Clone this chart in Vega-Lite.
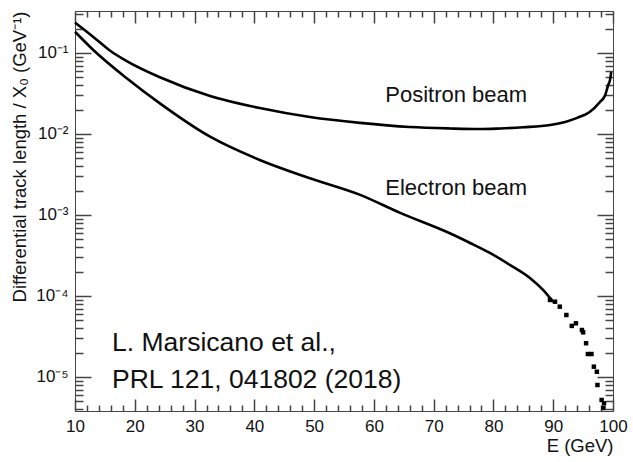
{
  "$schema": "https://vega.github.io/schema/vega-lite/v6.json",
  "width": 538,
  "height": 400,
  "autosize": {"type": "none"},
  "padding": {"left": 75, "top": 11, "right": 20, "bottom": 51},
  "background": "white",
  "config": {
    "view": {"stroke": "#444444", "strokeWidth": 1},
    "font": "Liberation Sans",
    "axis": {
      "domain": false, "grid": false,
      "labelFont": "Liberation Sans", "titleFont": "Liberation Sans",
      "labelColor": "#111111", "titleColor": "#111111",
      "tickColor": "#444444", "tickWidth": 1.5, "tickOpacity": 1,
      "labelFontSize": 17, "titleFontSize": 18.5, "titleFontWeight": "normal",
      "labelOverlap": false, "labelFlush": false, "zindex": 1
    }
  },
  "datasets": {
    "positron": [
      {"E": 10, "v": 0.237},
      {"E": 13.06, "v": 0.158},
      {"E": 16.0, "v": 0.105},
      {"E": 18.65, "v": 0.0794},
      {"E": 24.2, "v": 0.0501},
      {"E": 32.6, "v": 0.0294},
      {"E": 40.9, "v": 0.0209},
      {"E": 49.3, "v": 0.0162},
      {"E": 57.7, "v": 0.0137},
      {"E": 66.0, "v": 0.0122},
      {"E": 72.7, "v": 0.0117},
      {"E": 77.7, "v": 0.0115},
      {"E": 81.1, "v": 0.0117},
      {"E": 85.0, "v": 0.0121},
      {"E": 89.5, "v": 0.0129},
      {"E": 92.0, "v": 0.0141},
      {"E": 94.0, "v": 0.0158},
      {"E": 96.1, "v": 0.0187},
      {"E": 97.8, "v": 0.0248},
      {"E": 98.7, "v": 0.0303},
      {"E": 99.2, "v": 0.0403},
      {"E": 99.5, "v": 0.0464},
      {"E": 99.7, "v": 0.0582}
    ],
    "electron": [
      {"E": 10, "v": 0.183},
      {"E": 13.06, "v": 0.109},
      {"E": 18.65, "v": 0.0488},
      {"E": 24.2, "v": 0.0239},
      {"E": 32.6, "v": 0.00926},
      {"E": 40.9, "v": 0.00478},
      {"E": 49.3, "v": 0.00284},
      {"E": 57.7, "v": 0.00177},
      {"E": 64.4, "v": 0.00106},
      {"E": 72.7, "v": 0.000594},
      {"E": 76.1, "v": 0.000451},
      {"E": 79.4, "v": 0.00034},
      {"E": 82.8, "v": 0.000241},
      {"E": 86.1, "v": 0.000167},
      {"E": 88.3, "v": 0.000119},
      {"E": 90.0, "v": 0.0000843}
    ],
    "tail": [
      {"E": 89.46, "v": 0.0000893},
      {"E": 90.3, "v": 0.000085},
      {"E": 91.1, "v": 0.0000738},
      {"E": 92.2, "v": 0.0000582},
      {"E": 93.1, "v": 0.0000427},
      {"E": 93.8, "v": 0.000046},
      {"E": 94.8, "v": 0.000038},
      {"E": 95.0, "v": 0.0000356},
      {"E": 95.5, "v": 0.0000261},
      {"E": 95.8, "v": 0.0000192},
      {"E": 96.4, "v": 0.0000192},
      {"E": 96.8, "v": 0.0000134},
      {"E": 97.3, "v": 0.0000116},
      {"E": 97.4, "v": 0.00000796},
      {"E": 98.1, "v": 0.0000052},
      {"E": 98.5, "v": 0.00000473},
      {"E": 98.4, "v": 0.00000414}
    ],
    "beamLabels": [
      {"E": 61.9, "v": 0.0303, "label": "Positron beam"},
      {"E": 61.9, "v": 0.00215, "label": "Electron beam"}
    ],
    "citation": [
      {"E": 16.2, "v": 0.0000263, "label": "L. Marsicano et al.,"},
      {"E": 16.2, "v": 0.00000918, "label": "PRL 121, 041802 (2018)"}
    ]
  },
  "resolve": {"axis": {"x": "independent", "y": "independent"}},
  "layer": [
    {
      "data": {"name": "positron"},
      "mark": {"type": "line", "color": "black", "strokeWidth": 2.6, "interpolate": "monotone"},
      "encoding": {
        "x": {
          "field": "E", "type": "quantitative",
          "scale": {"domain": [10, 100], "nice": false, "zero": false},
          "axis": {
            "orient": "bottom",
            "values": [10,20,30,40,50,60,70,80,90,100],
            "ticks": false, "tickSize": 0,
            "labelPadding": 7,
            "title": "E (GeV)",
            "titleAnchor": "end",
            "titlePadding": 2
          }
        },
        "y": {
          "field": "v", "type": "quantitative",
          "scale": {"type": "log", "domain": [0.0000038, 0.33], "nice": false},
          "axis": {
            "orient": "left",
            "values": [0.00001, 0.0001, 0.001, 0.01, 0.1],
            "ticks": false, "tickSize": 0,
            "labelExpr": "'10⁻' + ['⁰','¹','²','³','⁴','⁵','⁶'][-round(log(datum.value)/LN10)]",
            "labelPadding": 7,
            "title": "Differential track length / X₀ (GeV⁻¹)",
            "titleAnchor": "end",
            "titlePadding": 6
          }
        }
      }
    },
    {
      "data": {"name": "electron"},
      "mark": {"type": "line", "color": "black", "strokeWidth": 2.6, "interpolate": "monotone"},
      "encoding": {
        "x": {
          "field": "E", "type": "quantitative",
          "axis": {
            "orient": "bottom", "offset": -12, "ticks": true, "tickSize": 12, "tickColor": "#444444",
            "values": [10,20,30,40,50,60,70,80,90,100],
            "labels": false, "title": null
          }
        },
        "y": {
          "field": "v", "type": "quantitative",
          "axis": {
            "orient": "left", "offset": -16, "ticks": true, "tickSize": 16, "tickColor": "#444444",
            "values": [0.00001, 0.0001, 0.001, 0.01, 0.1],
            "labels": false, "title": null
          }
        }
      }
    },
    {
      "data": {"name": "tail"},
      "mark": {"type": "square", "color": "black", "filled": true, "opacity": 1, "size": 20},
      "encoding": {
        "x": {
          "field": "E", "type": "quantitative",
          "axis": {
            "orient": "bottom", "offset": -6, "ticks": true, "tickSize": 6, "tickColor": "#444444",
            "values": [12,14,16,18,22,24,26,28,32,34,36,38,42,44,46,48,52,54,56,58,62,64,66,68,72,74,76,78,82,84,86,88,92,94,96,98],
            "labels": false, "title": null
          }
        },
        "y": {
          "field": "v", "type": "quantitative",
          "axis": {
            "orient": "left", "offset": -8, "ticks": true, "tickSize": 8, "tickColor": "#444444",
            "values": [0.000004,0.000005,0.000006,0.000007,0.000008,0.000009,0.00002,0.00003,0.00004,0.00005,0.00006,0.00007,0.00008,0.00009,0.0002,0.0003,0.0004,0.0005,0.0006,0.0007,0.0008,0.0009,0.002,0.003,0.004,0.005,0.006,0.007,0.008,0.009,0.02,0.03,0.04,0.05,0.06,0.07,0.08,0.09,0.2,0.3],
            "labels": false, "title": null
          }
        }
      }
    },
    {
      "data": {"name": "beamLabels"},
      "mark": {"type": "text", "align": "left", "baseline": "middle", "fontSize": 22, "color": "#111111", "font": "Liberation Sans"},
      "encoding": {
        "x": {
          "field": "E", "type": "quantitative",
          "axis": {
            "orient": "top", "offset": -12, "ticks": true, "tickSize": 12, "tickColor": "#444444",
            "values": [10,20,30,40,50,60,70,80,90,100],
            "labels": false, "title": null
          }
        },
        "y": {
          "field": "v", "type": "quantitative",
          "axis": {
            "orient": "right", "offset": -16, "ticks": true, "tickSize": 16, "tickColor": "#444444",
            "values": [0.00001, 0.0001, 0.001, 0.01, 0.1],
            "labels": false, "title": null
          }
        },
        "text": {"field": "label"}
      }
    },
    {
      "data": {"name": "citation"},
      "mark": {"type": "text", "align": "left", "baseline": "middle", "fontSize": 26.5, "color": "#111111", "font": "Liberation Sans"},
      "encoding": {
        "x": {
          "field": "E", "type": "quantitative",
          "axis": {
            "orient": "top", "offset": -6, "ticks": true, "tickSize": 6, "tickColor": "#444444",
            "values": [12,14,16,18,22,24,26,28,32,34,36,38,42,44,46,48,52,54,56,58,62,64,66,68,72,74,76,78,82,84,86,88,92,94,96,98],
            "labels": false, "title": null
          }
        },
        "y": {
          "field": "v", "type": "quantitative",
          "axis": {
            "orient": "right", "offset": -8, "ticks": true, "tickSize": 8, "tickColor": "#444444",
            "values": [0.000004,0.000005,0.000006,0.000007,0.000008,0.000009,0.00002,0.00003,0.00004,0.00005,0.00006,0.00007,0.00008,0.00009,0.0002,0.0003,0.0004,0.0005,0.0006,0.0007,0.0008,0.0009,0.002,0.003,0.004,0.005,0.006,0.007,0.008,0.009,0.02,0.03,0.04,0.05,0.06,0.07,0.08,0.09,0.2,0.3],
            "labels": false, "title": null
          }
        },
        "text": {"field": "label"}
      }
    }
  ]
}
